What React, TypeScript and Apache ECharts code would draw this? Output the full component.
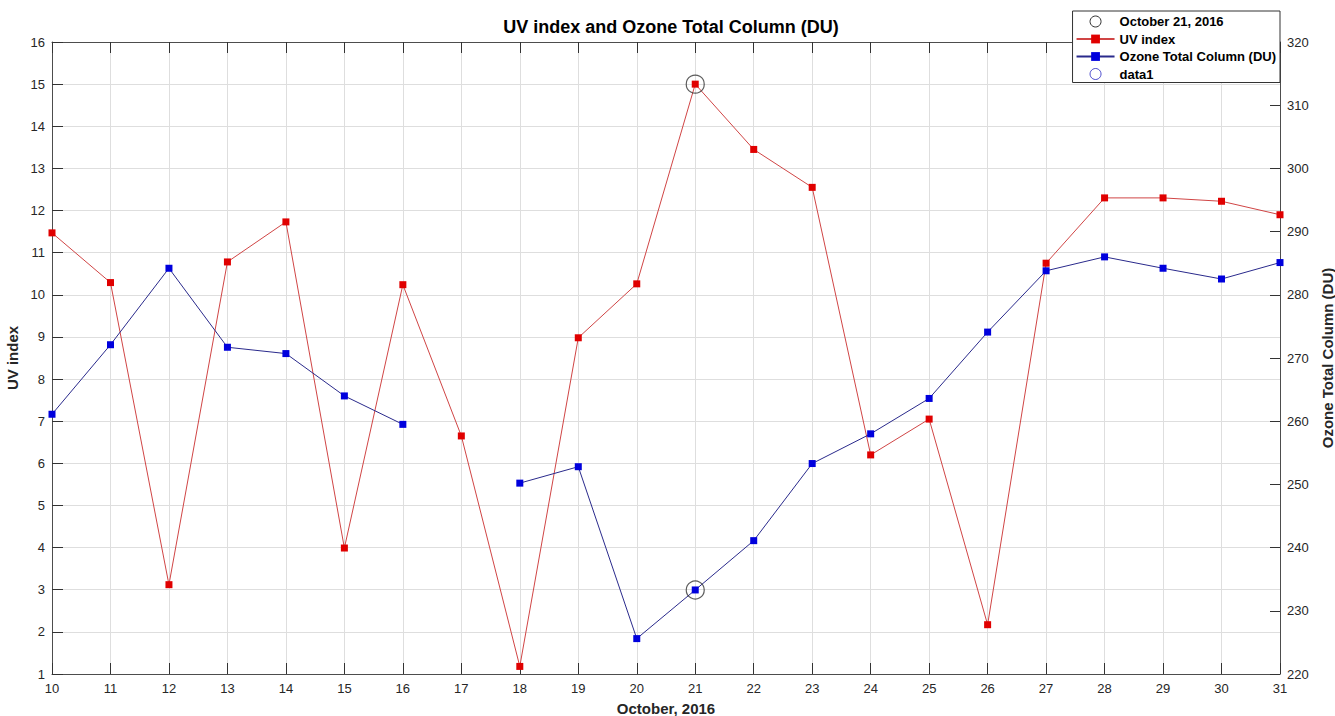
import React, { useEffect, useRef } from "react";
import * as echarts from "echarts";

const days = [10, 11, 12, 13, 14, 15, 16, 17, 18, 19, 20, 21, 22, 23, 24, 25, 26, 27, 28, 29, 30, 31];
const uvIndex = [11.47, 10.29, 3.12, 10.78, 11.73, 3.99, 10.24, 6.65, 1.18, 8.98, 10.26, 15.0, 13.45, 12.55, 6.2, 7.05, 2.17, 10.75, 12.3, 12.3, 12.22, 11.9];
const ozone = [261.1, 272.1, 284.2, 271.7, 270.7, 264.0, 259.5, null, 250.2, 252.8, 225.6, 233.3, 241.1, 253.3, 258.0, 263.6, 274.1, 283.8, 286.0, 284.2, 282.5, 285.1];
const highlightUv: [number, number] = [21, 15.0];
const highlightOzone: [number, number] = [21, 233.3];

const FONT = "'Liberation Sans', Arial, sans-serif";
const TXT = "#262626";

export default function App() {
  const ref = useRef<HTMLDivElement>(null);
  useEffect(() => {
    if (!ref.current) return;
    const chart = echarts.init(ref.current, undefined, { renderer: "svg" });
    const uvData = days.map((d, i) => [d, uvIndex[i]]);
    const ozData = days.map((d, i) => [d, ozone[i]]);
    const axisLine = { show: true, lineStyle: { color: "#4d4d4d", width: 1 } };
    const labelStyle = { color: TXT, fontSize: 13, fontFamily: FONT };
    const nameStyle = { fontSize: 15, fontWeight: "bold", color: TXT, fontFamily: FONT };
    chart.setOption({
      animation: false,
      backgroundColor: "#ffffff",
      title: {
        text: "UV index and Ozone Total Column (DU)",
        left: 666,
        textAlign: "center",
        top: 13,
        textStyle: { fontSize: 18, fontWeight: "bold", color: "#000", fontFamily: FONT },
      },
      legend: {
        orient: "vertical",
        right: 55,
        top: 11,
        backgroundColor: "#ffffff",
        borderColor: "#333",
        borderWidth: 1,
        borderRadius: 0,
        padding: [4, 4, 2, 3],
        itemGap: 4.5,
        itemWidth: 38,
        itemHeight: 11,
        textStyle: { fontSize: 13, fontWeight: "bold", color: "#000", fontFamily: FONT },
        data: [
          { name: "October 21, 2016", icon: "circle", itemStyle: { color: "transparent", borderColor: "#000", borderWidth: 1 } },
          { name: "UV index" },
          { name: "Ozone Total Column (DU)" },
          { name: "data1", icon: "circle", itemStyle: { color: "transparent", borderColor: "#2020c0", borderWidth: 1 } },
        ],
      },
      grid: { left: 52, right: 55, top: 42, bottom: 42, containLabel: false, outerBoundsMode: "none" },
      xAxis: [
        {
          type: "value",
          min: 10,
          max: 31,
          interval: 1,
          position: "bottom",
          name: "October, 2016",
          nameLocation: "middle",
          nameGap: 27,
          nameTextStyle: nameStyle,
          axisLine,
          axisTick: { show: true, inside: true, length: 11, lineStyle: { color: "#333" } },
          axisLabel: { ...labelStyle, margin: 8 },
          splitLine: { show: true, lineStyle: { color: "#dedede", width: 1 } },
        },
        {
          type: "value",
          min: 10,
          max: 31,
          interval: 1,
          position: "top",
          axisLine,
          axisTick: { show: true, inside: true, length: 11, lineStyle: { color: "#333" } },
          axisLabel: { show: false },
          splitLine: { show: false },
        },
      ],
      yAxis: [
        {
          type: "value",
          min: 1,
          max: 16,
          interval: 1,
          position: "left",
          name: "UV index",
          nameLocation: "middle",
          nameGap: 26,
          nameRotate: 90,
          nameTextStyle: nameStyle,
          axisLine,
          axisTick: { show: true, inside: true, length: 11, lineStyle: { color: "#333" } },
          axisLabel: { ...labelStyle, margin: 7 },
          splitLine: { show: true, lineStyle: { color: "#dedede", width: 1 } },
        },
        {
          type: "value",
          min: 220,
          max: 320,
          interval: 10,
          position: "right",
          name: "Ozone Total Column (DU)",
          nameLocation: "middle",
          nameGap: 36,
          nameRotate: 90,
          nameTextStyle: nameStyle,
          axisLine,
          axisTick: { show: true, inside: true, length: 10, lineStyle: { color: "#333" } },
          axisLabel: { ...labelStyle, margin: 7 },
          splitLine: { show: false },
        },
      ],
      series: [
        {
          name: "October 21, 2016",
          type: "scatter",
          xAxisIndex: 0,
          yAxisIndex: 0,
          symbol: "circle",
          symbolSize: 18,
          z: 5,
          itemStyle: { color: "transparent", borderColor: "#333", borderWidth: 1.2 },
          data: [highlightUv],
        },
        {
          name: "UV index",
          type: "line",
          xAxisIndex: 0,
          yAxisIndex: 0,
          symbol: "rect",
          symbolSize: 7,
          showAllSymbol: true,
          lineStyle: { color: "#d04545", width: 1 },
          itemStyle: { color: "#e00000", borderWidth: 0 },
          data: uvData,
        },
        {
          name: "Ozone Total Column (DU)",
          type: "line",
          xAxisIndex: 0,
          yAxisIndex: 1,
          symbol: "rect",
          symbolSize: 7,
          showAllSymbol: true,
          connectNulls: false,
          lineStyle: { color: "#2a2a8c", width: 1 },
          itemStyle: { color: "#0000dd", borderWidth: 0 },
          data: ozData,
        },
        {
          name: "data1",
          type: "scatter",
          xAxisIndex: 0,
          yAxisIndex: 1,
          symbol: "circle",
          symbolSize: 18,
          z: 5,
          itemStyle: { color: "transparent", borderColor: "#333", borderWidth: 1.2 },
          data: [highlightOzone],
        },
      ],
    });
    return () => chart.dispose();
  }, []);
  return (
    <div style={{ position: "fixed", left: 0, top: 0, width: 1335, height: 716, background: "#fff" }}>
      <div ref={ref} style={{ width: 1335, height: 716 }} />
    </div>
  );
}
